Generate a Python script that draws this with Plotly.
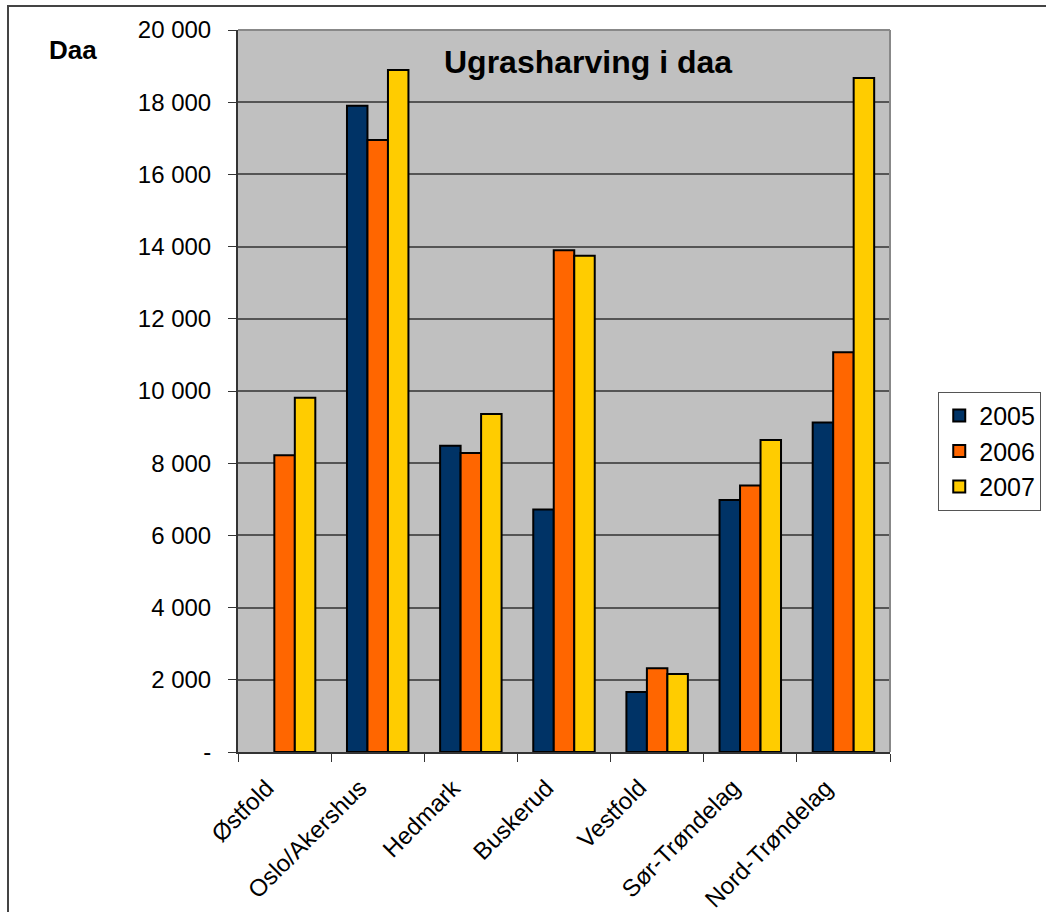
import plotly.graph_objects as go

# Areas of weed harrowing per county (daa)
fylker = ["Østfold", "Oslo/Akershus", "Hedmark", "Buskerud", "Vestfold",
          "Sør-Trøndelag", "Nord-Trøndelag"]
aar = ["2005", "2006", "2007"]
daa_2005 = [None, 17900, 8480, 6720, 1660, 6980, 9130]
daa_2006 = [8220, 16950, 8280, 13900, 2320, 7380, 11070]
daa_2007 = [9810, 18890, 9360, 13750, 2160, 8640, 18670]
farger = ["#003366", "#FF6600", "#FFCC00"]

y_ticks = [0, 2000, 4000, 6000, 8000, 10000, 12000, 14000, 16000, 18000, 20000]
y_tick_text = ["-", "2 000", "4 000", "6 000", "8 000", "10 000", "12 000",
               "14 000", "16 000", "18 000", "20 000"]

FONT = "Liberation Sans, Arial, sans-serif"

fig = go.Figure()
for navn, verdier, farge in zip(aar, [daa_2005, daa_2006, daa_2007], farger):
    fig.add_trace(go.Bar(
        x=fylker, y=verdier, name=navn,
        marker=dict(color=farge, line=dict(color="black", width=2)),
    ))

# Slanted county labels placed under each category (category index on the x axis)
county_labels = [
    dict(text=f, x=i, xref="x", y=0, yref="paper",
         xanchor="right", yanchor="top", textangle=-45,
         xshift=-3, yshift=-19, showarrow=False,
         font=dict(size=24, family=FONT))
    for i, f in enumerate(fylker)
]

fig.update_layout(
    width=1046, height=912,
    margin=dict(l=238, r=156, t=30, b=160, autoexpand=False),
    paper_bgcolor="white",
    plot_bgcolor="#C0C0C0",
    barmode="group",
    bargap=0.34,
    bargroupgap=0,
    font=dict(family=FONT, size=24, color="black"),
    showlegend=True,
    legend=dict(
        x=1.074, y=0.499, xanchor="left", yanchor="top",
        bgcolor="white", bordercolor="#555555", borderwidth=1,
        font=dict(size=25, family=FONT),
        itemsizing="constant",
        tracegroupgap=10,
    ),
    xaxis=dict(
        type="category",
        range=[-0.5, len(fylker) - 0.5],
        ticks="outside", ticklen=8, tickcolor="#333333",
        tickson="boundaries",
        showticklabels=False,
        showline=True, linecolor="#333333", linewidth=2,
        automargin=False,
    ),
    yaxis=dict(
        range=[0, 20000],
        tickvals=y_ticks, ticktext=y_tick_text,
        ticks="outside", ticklen=8, tickcolor="#333333",
        ticklabelstandoff=12,
        showgrid=True, gridcolor="#555555", gridwidth=1.5,
        showline=True, linecolor="#333333", linewidth=2,
        tickfont=dict(size=24, family=FONT),
        zeroline=False,
        automargin=False,
    ),
    annotations=[
        dict(text="<b>Ugrasharving i daa</b>", xref="paper", yref="paper",
             x=0.537, y=0.956, xanchor="center", yanchor="middle",
             showarrow=False, font=dict(size=32, family=FONT)),
        dict(text="<b>Daa</b>", xref="paper", yref="paper",
             x=-0.253, y=0.972, xanchor="center", yanchor="middle",
             showarrow=False, font=dict(size=26, family=FONT)),
    ] + county_labels,
    shapes=[
        # right/top frame of the plot area
        dict(type="line", xref="paper", yref="paper", x0=1, x1=1, y0=0, y1=1,
             line=dict(color="#888888", width=2)),
        dict(type="line", xref="paper", yref="paper", x0=0, x1=1, y0=1, y1=1,
             line=dict(color="#888888", width=2)),
        # outer chart frame
        dict(type="rect", xref="paper", yref="paper",
             x0=(8 - 238) / 652, x1=(1060 - 238) / 652,
             y0=(752 - 925) / 722, y1=(752 - 6) / 722,
             line=dict(color="#444444", width=2), layer="below"),
    ],
)

fig.write_html("out.html")
